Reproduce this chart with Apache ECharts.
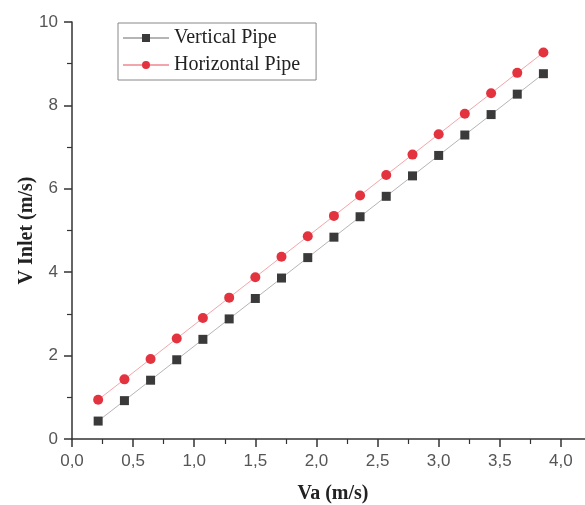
<!DOCTYPE html>
<html>
<head>
<meta charset="utf-8">
<script src="https://cdn.jsdelivr.net/npm/echarts@6/dist/echarts.min.js"></script>
<style>html,body{margin:0;padding:0;background:#fff}#c{width:585px;height:505px}</style>
</head>
<body>
<div id="c"></div>
<script>
var va = [0.214, 0.429, 0.643, 0.857, 1.071, 1.286, 1.500, 1.714, 1.929, 2.143, 2.357, 2.571, 2.786, 3.000, 3.214, 3.429, 3.643, 3.857];
var verticalPipe = [0.43, 0.92, 1.41, 1.90, 2.39, 2.88, 3.37, 3.86, 4.35, 4.84, 5.33, 5.82, 6.31, 6.80, 7.29, 7.78, 8.27, 8.76];
var horizontalPipe = [0.94, 1.43, 1.92, 2.41, 2.90, 3.39, 3.88, 4.37, 4.86, 5.35, 5.84, 6.33, 6.82, 7.31, 7.80, 8.29, 8.78, 9.27];
var seriesNames = ['Vertical Pipe', 'Horizontal Pipe'];

function pairs(xs, ys) { return xs.map(function (x, i) { return [x, ys[i]]; }); }

var chart = echarts.init(document.getElementById('c'), null, {renderer: 'canvas'});
var axisCol = '#333';
chart.setOption({
  animation: false,
  backgroundColor: '#fff',
  grid: {left: 72, right: -37, top: 22, bottom: 66, outerBoundsMode: 'none', containLabel: false},
  legend: {
    left: 118, top: 23, orient: 'vertical',
    itemWidth: 46, itemHeight: 10, itemGap: 7,
    padding: [5, 16, 5, 4],
    borderColor: '#888', borderWidth: 1,
    textStyle: {fontFamily: 'Liberation Serif', fontSize: 20, color: '#222'},
    data: seriesNames
  },
  xAxis: {
    type: 'value', min: 0, max: 4.5, interval: 0.5,
    name: 'Va (m/s)', nameLocation: 'middle', nameGap: 45, nameMoveOverlap: false,
    nameTextStyle: {fontFamily: 'Liberation Serif', fontSize: 20, fontWeight: 'bold', color: '#222', padding: [0, 28, 0, 0]},
    axisLine: {show: true, lineStyle: {color: axisCol, width: 1.5}},
    axisTick: {show: true, inside: false, length: 8, lineStyle: {color: axisCol, width: 1.5}},
    minorTick: {show: true, splitNumber: 2, length: 5, lineStyle: {color: axisCol, width: 1.2}},
    splitLine: {show: false},
    axisLabel: {margin: 14, fontFamily: 'Liberation Sans', fontSize: 17, color: '#555',
      formatter: function (v) { return v.toFixed(1).replace('.', ','); }}
  },
  yAxis: {
    type: 'value', min: 0, max: 10, interval: 2,
    name: 'V Inlet (m/s)', nameLocation: 'middle', nameGap: 35, nameMoveOverlap: false,
    nameTextStyle: {fontFamily: 'Liberation Serif', fontSize: 20, fontWeight: 'bold', color: '#222'},
    axisLine: {show: true, lineStyle: {color: axisCol, width: 1.5}},
    axisTick: {show: true, inside: false, length: 8, lineStyle: {color: axisCol, width: 1.5}},
    minorTick: {show: true, splitNumber: 2, length: 5, lineStyle: {color: axisCol, width: 1.2}},
    splitLine: {show: false},
    axisLabel: {margin: 14, fontFamily: 'Liberation Sans', fontSize: 17, color: '#555'}
  },
  series: [
    {
      name: seriesNames[0], type: 'line', data: pairs(va, verticalPipe),
      symbol: 'rect', symbolSize: 9,
      itemStyle: {color: '#3a3a3a'},
      lineStyle: {color: '#b5b5b5', width: 1}
    },
    {
      name: seriesNames[1], type: 'line', data: pairs(va, horizontalPipe),
      symbol: 'circle', symbolSize: 10,
      itemStyle: {color: '#e2333f'},
      lineStyle: {color: '#f4a5ab', width: 1}
    }
  ]
});
</script>
</body>
</html>
